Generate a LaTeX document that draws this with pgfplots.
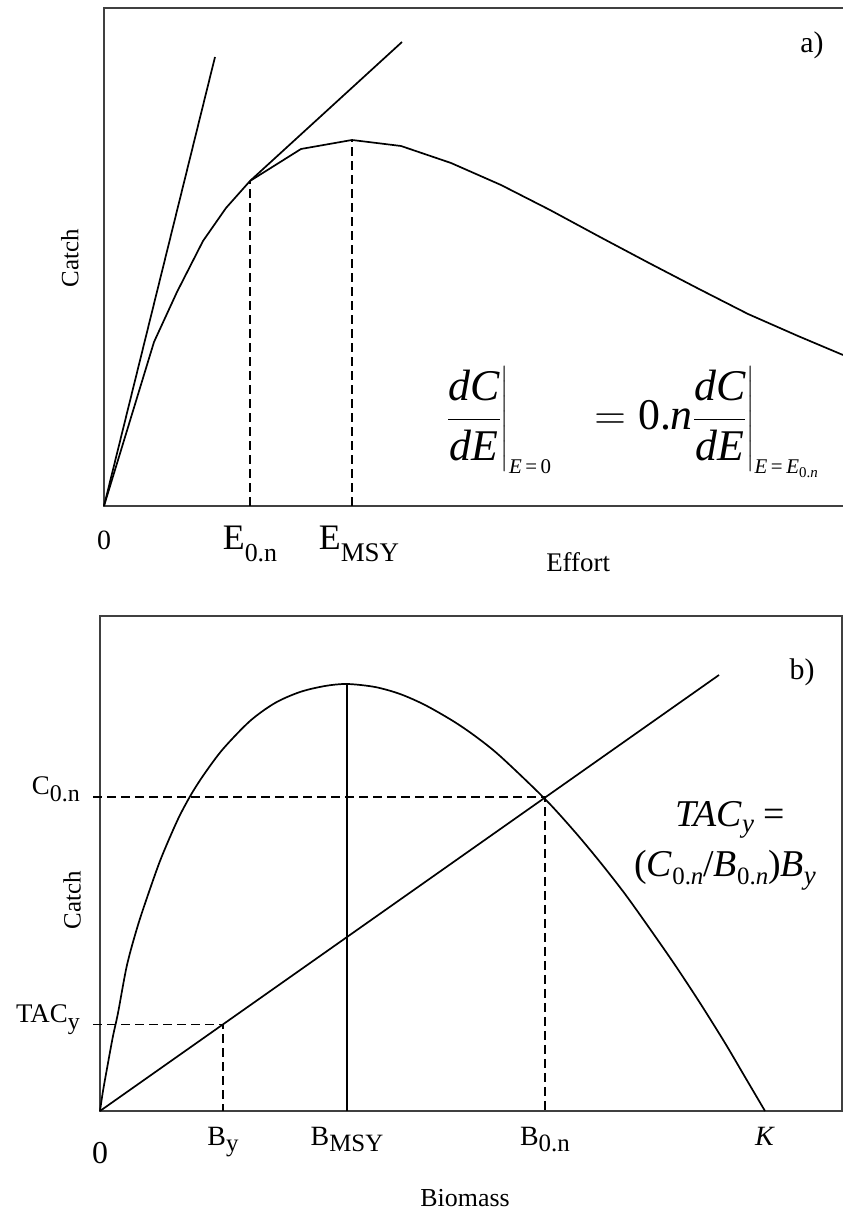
\RequirePackage{fix-cm}
\documentclass[border=0pt]{standalone}
\usepackage{amsmath}
\usepackage{fontspec}
\setmainfont{Liberation Serif}
\usepackage{pgfplots}
\pgfplotsset{compat=1.18}
\newcommand{\fs}[1]{\fontsize{#1}{#1}\selectfont}
\newcommand{\lsub}[3]{\raisebox{-#1em}{\fs{#2}#3}}
\tikzset{dsh/.style={line width=1.3bp, dash pattern=on 9bp off 5bp},
         crv/.style={line width=1.7bp, black}}
\begin{document}
\begin{tikzpicture}
\path[use as bounding box] (0bp,0bp) rectangle (843bp,1213bp);
% ---------------- panel a ----------------
\begin{axis}[
  at={(104bp,707bp)}, anchor=south west, scale only axis,
  width=742bp, height=498bp,
  xmin=0, xmax=742, ymin=0, ymax=498, clip=false,
  axis line style={line width=1.5bp, black!75},
  ytick=\empty, xtick={0,146,248},
  xticklabels={{\fs{28}0},{\fs{36}E\lsub{0.33}{26}{0.n}},{\hspace*{14bp}\fs{36}E\lsub{0.33}{27}{MSY}}},
  major tick length=0pt,
  xticklabel style={anchor=base, yshift=-44bp, inner sep=0pt},
  xlabel={Effort},
  xlabel style={at={(axis description cs:0.639,0)}, anchor=base, yshift=-66bp, font=\fs{27}},
  ylabel={Catch},
  ylabel style={at={(axis description cs:-0.046,0.498)}, anchor=center, font=\fs{25}},
]
\addplot[crv] coordinates {(0,0) (50,164) (73,214) (99,265) (122,298) (146,325) (197,357) (248,366) (297,360) (347,343) (397,321) (446,296) (496,269) (545,243) (595,217) (644,192) (694,170) (739,151)};
\addplot[crv] coordinates {(0,0) (111,449)};
\addplot[crv] coordinates {(146,325) (298,464)};
\addplot[dsh] coordinates {(146,0) (146,325)};
\addplot[dsh] coordinates {(248,0) (248,366)};
\node[anchor=base, font=\fs{30}] at (axis cs:708,453) {a)};
\node[anchor=base west, font=\fs{44}, inner sep=0pt] at (axis cs:343,76)
  {$\displaystyle\frac{\textit{dC}}{\textit{dE}}\bigg|_{\mbox{\fs{21}\textit{E}\,=\,0}}\hspace{0.7em}=\text{0.}\textit{n}\frac{\textit{dC}}{\textit{dE}}\bigg|_{\mbox{\fs{21}\textit{E}\,=\,\textit{E}\lsub{0.2}{15}{0.\textit{n}}}}$};
\end{axis}
% ---------------- panel b ----------------
\begin{axis}[
  at={(100bp,102bp)}, anchor=south west, scale only axis,
  width=742bp, height=495bp,
  xmin=0, xmax=742, ymin=0, ymax=495, clip=false,
  axis line style={line width=1.5bp, black!75},
  xtick={0,123,247,445,665},
  xticklabels={{\raisebox{-18bp}{\fs{32}0}},{\fs{28}B\lsub{0.25}{25}{y}},{\fs{28}B\lsub{0.25}{25}{MSY}},{\fs{28}B\lsub{0.25}{25}{0.n}},{\fs{28}\textit{K}}},
  xticklabel style={anchor=base, yshift=-34bp, inner sep=0pt},
  ytick={86.6,314},
  yticklabels={{\fs{27}TAC\lsub{0.25}{24}{y}},{\fs{27}C\lsub{0.25}{24}{0.n}}},
  yticklabel style={anchor=base east, inner sep=0pt, xshift=-20bp, yshift=2bp},
  major tick length=0pt,
  xlabel={Biomass},
  xlabel style={at={(axis description cs:0.492,0)}, anchor=base, yshift=-95bp, font=\fs{26}},
  ylabel={Catch},
  ylabel style={at={(axis description cs:-0.0377,0.426)}, anchor=center, font=\fs{25}},
]
\addplot[crv, smooth, tension=0.5] coordinates {(0,0) (3,20) (8,48) (13,75) (18,98) (27,146) (38,186) (50,222) (60,250) (70,274) (80,296) (92,318) (105,338) (123,362) (150,390) (175,408) (200,419) (225,425) (247,427) (275,424) (300,417) (325,406) (353,390) (375,375) (400,355) (445,312) (475,279) (500,249) (525,217) (550,182) (575,146) (600,108) (625,68) (645,34) (665,0)};
\addplot[crv] coordinates {(0,0) (619,436)};
\addplot[line width=1.1bp] coordinates {(247,0) (247,427)};
\addplot[dsh] coordinates {(-7,314) (445,314) (445,0)};
\addplot[dsh] coordinates {(-7,86.6) (123,86.6) (123,0)};
\node[anchor=base, font=\fs{30}] at (axis cs:702,431) {b)};
\node[anchor=base, font=\fs{38}] at (axis cs:630,284) {\textit{TAC}\lsub{0.15}{27}{\textit{y}} =};
\node[anchor=base, font=\fs{38}] at (axis cs:625,234) {(\textit{C}\lsub{0.2}{25}{0.\textit{n}}/\textit{B}\lsub{0.2}{25}{0.\textit{n}})\textit{B}\lsub{0.2}{27}{\textit{y}}};
\end{axis}
\end{tikzpicture}
\end{document}
